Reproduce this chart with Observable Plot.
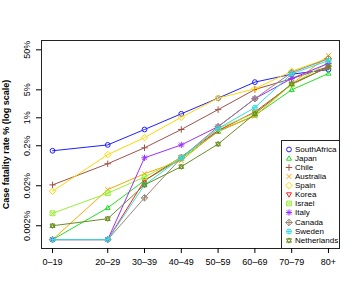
<!DOCTYPE html>
<html><head><meta charset="utf-8">
<script src="https://cdn.jsdelivr.net/npm/d3@7"></script>
<script src="https://cdn.jsdelivr.net/npm/@observablehq/plot@0.6"></script>
<style>
html,body{margin:0;padding:0;background:#fff;}
#wrap{position:relative;width:360px;height:300px;font-family:"Liberation Sans",Arial,sans-serif;}
#legend{position:absolute;left:281px;top:140px;width:57px;height:107px;border:1px solid #222;background:#fff;border-right:none;border-bottom:none;}
.row{position:absolute;left:0;height:9px;font-size:8px;line-height:9px;white-space:nowrap;}
.row svg{position:absolute;left:2px;top:0;}
.row span{position:absolute;left:13px;top:0;}
</style></head><body><div id="wrap"><div id="legend"></div></div>
<script>
const ages = ["0–19","20–29","30–39","40–49","50–59","60–69","70–79","80+"];
const ageMid = [10,25,35,45,55,65,75,85];
const Z = 0.0009; // zero cases shown at floor
const countries = ["SouthAfrica","Japan","Chile","Australia","Spain","Korea","Israel","Italy","Canada","Sweden","Netherlands"];
const colors = ["#1f1fff","#22e022","#a0524a","#ffa500","#ffd700","#ff2020","#9aee3a","#9b30ff","#9c8474","#33dde0","#6b8e23"];
const SouthAfrica = [0.15, 0.21, 0.51, 1.26, 3.1, 7.8, 12.3, 16];
const Japan       = [Z, 0.0056, 0.027, 0.095, 0.45, 1.15, 5.0, 12.8];
const Chile       = [0.021, 0.071, 0.178, 0.51, 1.6, 5.1, 9.5, 19];
const Australia   = [Z, 0.016, 0.04, 0.085, 0.48, 1.1, 7, 36];
const Spain       = [0.0146, 0.12, 0.32, 1.03, 3.1, 5.3, 14.6, 31];
const Korea       = [Z, Z, 0.027, 0.105, 0.48, 1.4, 6.8, 19];
const Israel      = [0.0041, 0.013, 0.033, 0.1, 0.54, 1.3, 6.8, 24];
const Italy       = [Z, Z, 0.1, 0.21, 0.6, 3.0, 9.6, 23];
const Canada      = [Z, Z, 0.01, 0.1, 0.6, 3.0, 13.6, 30];
const Sweden      = [Z, Z, 0.021, 0.1, 0.54, 1.8, 12.6, 27];
const Netherlands = [0.002, 0.003, 0.021, 0.06, 0.22, 1.26, 7.1, 18.4];
const series = [SouthAfrica,Japan,Chile,Australia,Spain,Korea,Israel,Italy,Canada,Sweden,Netherlands];
const yTicks = [0.002, 0.02, 0.2, 1, 5, 50];
const yTickLabels = ["0.002%","0.02%","0.2%","1%","5%","50%"];
const yTitle = "Case fatality rate % (log scale)";

// R-like pch symbols 1..11
function drawPch(k, ctx, r) {
  const tri = (up) => { const s = up?1:-1; const h=r*1.1;
    ctx.moveTo(0,-s*h*1.0); ctx.lineTo(h*0.95, s*h*0.65); ctx.lineTo(-h*0.95, s*h*0.65); ctx.closePath(); };
  const circ = () => { ctx.moveTo(r,0); ctx.arc(0,0,r,0,2*Math.PI); };
  const plus = (a) => { ctx.moveTo(-a,0); ctx.lineTo(a,0); ctx.moveTo(0,-a); ctx.lineTo(0,a); };
  const times = (a) => { ctx.moveTo(-a,-a); ctx.lineTo(a,a); ctx.moveTo(-a,a); ctx.lineTo(a,-a); };
  const diam = (a) => { ctx.moveTo(0,-a); ctx.lineTo(a,0); ctx.lineTo(0,a); ctx.lineTo(-a,0); ctx.closePath(); };
  const sq = (a) => { ctx.moveTo(-a,-a); ctx.lineTo(a,-a); ctx.lineTo(a,a); ctx.lineTo(-a,a); ctx.closePath(); };
  switch(k){
    case 0: circ(); break;
    case 1: tri(true); break;
    case 2: plus(r*1.35); break;
    case 3: times(r); break;
    case 4: diam(r*1.35); break;
    case 5: tri(false); break;
    case 6: sq(r); times(r); break;
    case 7: plus(r*1.3); times(r*0.95); break;
    case 8: diam(r*1.35); plus(r*1.35); break;
    case 9: circ(); plus(r); break;
    case 10: tri(true); tri(false); break;
  }
}
const symbols = countries.map((c,k)=>({draw(ctx,size){ drawPch(k, ctx, Math.sqrt(size/Math.PI)); }}));

const rows = [];
countries.forEach((c,k)=> series[k].forEach((v,i)=> rows.push({country:c, k, age:ageMid[i], value:v})));

const marks = [
  Plot.frame({stroke:"#222"}),
  Plot.axisX({ticks: ageMid, tickFormat: d => ages[ageMid.indexOf(d)], tickSize:5, tickPadding:5, label:null}),
  Plot.axisY({ticks: yTicks, tickFormat: () => "", tickSize:5, label:null}),
  Plot.text(yTicks, {y: d => d, text: (d,i) => yTickLabels[i], frameAnchor:"left", dx:-14, rotate:-90, textAnchor:"middle", lineAnchor:"middle", fill:"black"}),
  Plot.text([yTitle], {text: d => d, frameAnchor:"left", dx:-35, rotate:-90, textAnchor:"middle", lineAnchor:"middle", fontWeight:"bold", fill:"black"})
];
countries.forEach((c,k)=>{
  const d = rows.filter(r=>r.k===k);
  marks.push(Plot.line(d,{x:"age",y:"value",stroke:colors[k],strokeWidth:1}));
  marks.push(Plot.dot(d,{x:"age",y:"value",stroke:colors[k],fill:"none",strokeWidth:1,r:2.4,symbol:()=>symbols[k]}));
});

const chart = Plot.plot({
  width:360, height:300,
  marginLeft:41, marginRight:21, marginTop:40, marginBottom:52,
  style:{fontFamily:"'Liberation Sans',Arial,sans-serif", fontSize:"9px", color:"black", background:"white"},
  x:{domain:[7,88]},
  y:{type:"log", domain:[Math.pow(10,-3.2675), Math.pow(10,1.9325)]},
  marks
});
const wrap = document.getElementById("wrap");
wrap.insertBefore(chart, wrap.firstChild);

// legend
const leg = document.getElementById("legend");
countries.forEach((c,k)=>{
  const row = document.createElement("div");
  row.className="row"; row.style.top = (4 + k*9.07) + "px"; row.style.width="57px";
  const p = d3.path(); drawPch(k, p, 2.4);
  row.innerHTML = `<svg width="10" height="9" viewBox="-5 -4.5 10 9"><path d="${p.toString()}" fill="none" stroke="${colors[k]}" stroke-width="1"/></svg><span>${c}</span>`;
  leg.appendChild(row);
});
</script></body></html>
